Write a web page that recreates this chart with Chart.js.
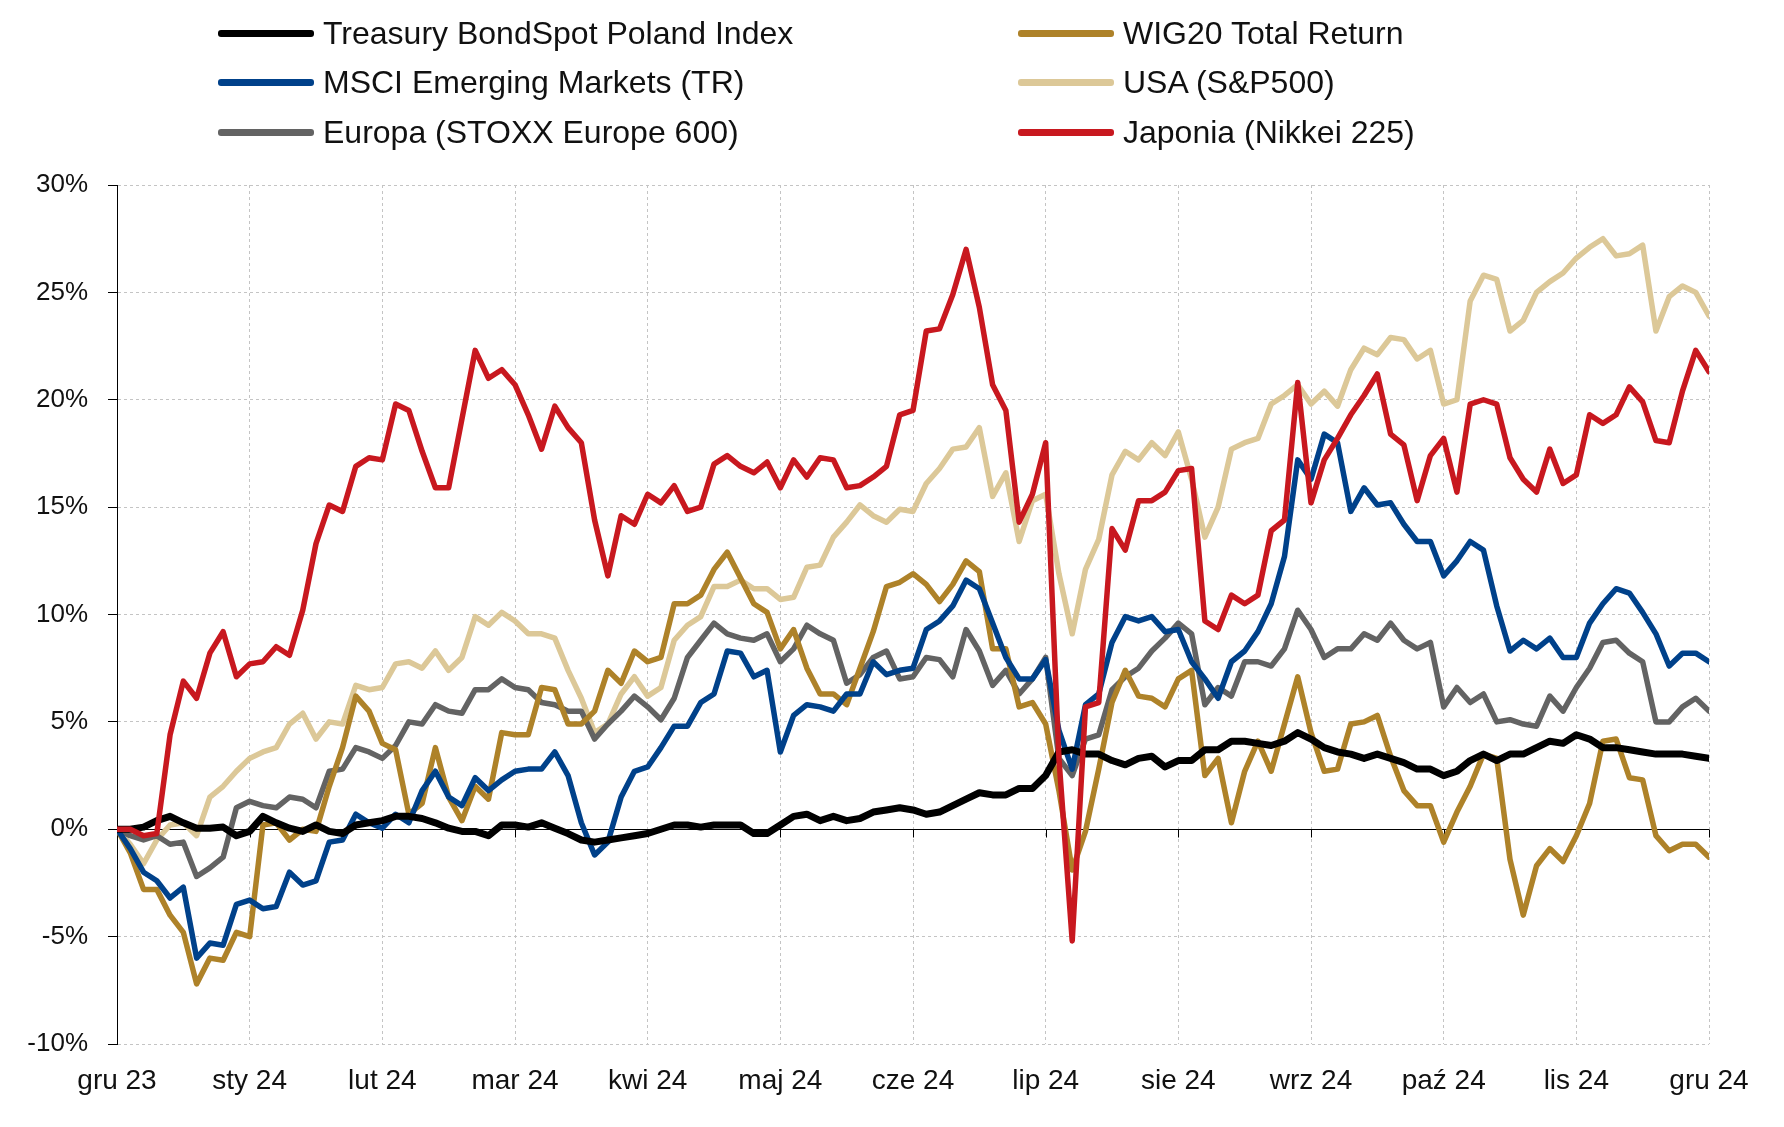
<!DOCTYPE html>
<html>
<head>
<meta charset="utf-8">
<script src="https://cdn.jsdelivr.net/npm/chart.js@4.4.1/dist/chart.umd.min.js"></script>
<style>
  body { margin: 0; background: #fff; }
  #wrap { position: relative; width: 1784px; height: 1127px; }
  #chart { position: absolute; left: 0; top: 0; }
  .legend-item { position: absolute; display: flex; align-items: center; height: 32px;
    font-family: 'Liberation Sans', Arial, sans-serif; font-size: 32px; line-height: 32px; color: #111; white-space: nowrap; }
  .legend-item span.swatch { display: inline-block; width: 96px; height: 7px; border-radius: 3px; margin-right: 9px; }
</style>
</head>
<body>
<div id="wrap">
  <canvas id="chart" width="1784" height="1127"></canvas>
  <div id="legend"></div>
</div>
<script>
// month-end labels, one per gridline
const monthLabels = ['gru 23', 'sty 24', 'lut 24', 'mar 24', 'kwi 24', 'maj 24', 'cze 24',
  'lip 24', 'sie 24', 'wrz 24', 'paź 24', 'lis 24', 'gru 24'];

// sample positions in months since start (every 0.1 month)
const steps = Array.from({ length: 121 }, (_, i) => i / 10);

// YTD returns in %
const treasury = [
  0, 0, 0.1, 0.4, 0.6, 0.3, 0.05, 0.05, 0.1, -0.3,
  -0.1, 0.6, 0.3, 0.05, -0.1, 0.2, -0.1, -0.2, 0.2, 0.3,
  0.4, 0.6, 0.6, 0.5, 0.3, 0.05, -0.1, -0.1, -0.3, 0.2,
  0.2, 0.1, 0.3, 0.05, -0.2, -0.5, -0.6, -0.5, -0.4, -0.3,
  -0.2, 0.0, 0.2, 0.2, 0.1, 0.2, 0.2, 0.2, -0.2, -0.2,
  0.2, 0.6, 0.7, 0.4, 0.6, 0.4, 0.5, 0.8, 0.9, 1.0,
  0.9, 0.7, 0.8, 1.1, 1.4, 1.7, 1.6, 1.6, 1.9, 1.9,
  2.5, 3.6, 3.7, 3.5, 3.5, 3.2, 3.0, 3.3, 3.4, 2.9,
  3.2, 3.2, 3.7, 3.7, 4.1, 4.1, 4.0, 3.9, 4.1, 4.5,
  4.2, 3.8, 3.6, 3.5, 3.3, 3.5, 3.3, 3.1, 2.8, 2.8,
  2.5, 2.7, 3.2, 3.5, 3.2, 3.5, 3.5, 3.8, 4.1, 4.0,
  4.4, 4.2, 3.8, 3.8, 3.7, 3.6, 3.5, 3.5, 3.5, 3.4, 3.3,
];
const wig20 = [
  0, -1.1, -2.8, -2.8, -4.0, -4.8, -7.2, -6.0, -6.1, -4.8,
  -5.0, 0.2, 0.3, -0.5, 0.0, -0.1, 2.0, 3.8, 6.2, 5.5,
  4.0, 3.7, 0.7, 1.2, 3.8, 1.5, 0.4, 2.0, 1.4, 4.5,
  4.4, 4.4, 6.6, 6.5, 4.9, 4.9, 5.5, 7.4, 6.8, 8.3,
  7.8, 8.0, 10.5, 10.5, 10.9, 12.1, 12.9, 11.7, 10.5, 10.1,
  8.4, 9.3, 7.5, 6.3, 6.3, 5.8, 7.5, 9.2, 11.3, 11.5,
  11.9, 11.4, 10.6, 11.4, 12.5, 12.0, 8.4, 8.4, 5.7, 5.9,
  4.9, 1.8, -1.9, -0.1, 2.8, 5.9, 7.4, 6.2, 6.1, 5.7,
  7.0, 7.4, 2.5, 3.3, 0.3, 2.7, 4.1, 2.7, 4.9, 7.1,
  4.5, 2.7, 2.8, 4.9, 5.0, 5.3, 3.4, 1.8, 1.1, 1.1,
  -0.6, 0.8, 2.0, 3.5, 3.3, -1.4, -4.0, -1.7, -0.9, -1.5,
  -0.3, 1.2, 4.1, 4.2, 2.4, 2.3, -0.3, -1.0, -0.7, -0.7, -1.3,
];
const msci = [
  0, -0.9, -2.0, -2.4, -3.2, -2.7, -6.0, -5.3, -5.4, -3.5,
  -3.3, -3.7, -3.6, -2.0, -2.6, -2.4, -0.6, -0.5, 0.7, 0.3,
  0.05, 0.7, 0.3, 1.8, 2.7, 1.5, 1.1, 2.4, 1.8, 2.3,
  2.7, 2.8, 2.8, 3.6, 2.5, 0.3, -1.2, -0.6, 1.5, 2.7,
  2.9, 3.8, 4.8, 4.8, 5.9, 6.3, 8.3, 8.2, 7.1, 7.4,
  3.6, 5.3, 5.8, 5.7, 5.5, 6.3, 6.3, 7.8, 7.2, 7.4,
  7.5, 9.3, 9.7, 10.4, 11.6, 11.2, 9.6, 8.0, 7.0, 7.0,
  7.9, 4.6, 2.8, 5.8, 6.3, 8.7, 9.9, 9.7, 9.9, 9.2,
  9.3, 7.8, 7.0, 6.1, 7.8, 8.3, 9.2, 10.5, 12.7, 17.2,
  16.3, 18.4, 18.0, 14.8, 15.9, 15.1, 15.2, 14.2, 13.4, 13.4,
  11.8, 12.5, 13.4, 13.0, 10.4, 8.3, 8.8, 8.4, 8.9, 8.0,
  8.0, 9.6, 10.5, 11.2, 11.0, 10.1, 9.1, 7.6, 8.2, 8.2, 7.8,
];
const usa = [
  0, -0.7, -1.6, -0.5, 0.2, 0.3, -0.3, 1.5, 2.0, 2.7,
  3.3, 3.6, 3.8, 4.9, 5.4, 4.2, 5.0, 4.9, 6.7, 6.5,
  6.6, 7.7, 7.8, 7.5, 8.3, 7.4, 8.0, 9.9, 9.5, 10.1,
  9.7, 9.1, 9.1, 8.9, 7.4, 6.1, 4.5, 4.9, 6.3, 7.1,
  6.2, 6.6, 8.8, 9.5, 9.9, 11.3, 11.3, 11.6, 11.2, 11.2,
  10.7, 10.8, 12.2, 12.3, 13.6, 14.3, 15.1, 14.6, 14.3, 14.9,
  14.8, 16.1, 16.8, 17.7, 17.8, 18.7, 15.5, 16.6, 13.4, 15.3,
  15.6, 11.9, 9.1, 12.1, 13.5, 16.5, 17.6, 17.2, 18.0, 17.4,
  18.5, 16.3, 13.6, 15.0, 17.7, 18.0, 18.2, 19.8, 20.2, 20.7,
  19.8, 20.4, 19.7, 21.4, 22.4, 22.1, 22.9, 22.8, 21.9, 22.3,
  19.8, 20.0, 24.6, 25.8, 25.6, 23.2, 23.7, 25.0, 25.5, 25.9,
  26.6, 27.1, 27.5, 26.7, 26.8, 27.2, 23.2, 24.8, 25.3, 25.0, 23.9,
];
const europe = [
  0, -0.3, -0.5, -0.3, -0.7, -0.6, -2.2, -1.8, -1.3, 1.0,
  1.3, 1.1, 1.0, 1.5, 1.4, 1.0, 2.7, 2.8, 3.8, 3.6,
  3.3, 3.9, 5.0, 4.9, 5.8, 5.5, 5.4, 6.5, 6.5, 7.0,
  6.6, 6.5, 5.9, 5.8, 5.5, 5.5, 4.2, 4.9, 5.5, 6.2,
  5.7, 5.1, 6.1, 8.0, 8.8, 9.6, 9.1, 8.9, 8.8, 9.1,
  7.8, 8.4, 9.5, 9.1, 8.8, 6.8, 7.2, 8.0, 8.3, 7.0,
  7.1, 8.0, 7.9, 7.1, 9.3, 8.3, 6.7, 7.4, 6.3, 7.0,
  8.0, 3.3, 2.5, 4.2, 4.4, 6.5, 7.1, 7.5, 8.3, 8.9,
  9.6, 9.1, 5.8, 6.6, 6.2, 7.8, 7.8, 7.6, 8.4, 10.2,
  9.3, 8.0, 8.4, 8.4, 9.1, 8.8, 9.6, 8.8, 8.4, 8.7,
  5.7, 6.6, 5.9, 6.3, 5.0, 5.1, 4.9, 4.8, 6.2, 5.5,
  6.6, 7.5, 8.7, 8.8, 8.2, 7.8, 5.0, 5.0, 5.7, 6.1, 5.5,
];
const japan = [
  0, 0, -0.3, -0.2, 4.4, 6.9, 6.1, 8.2, 9.2, 7.1,
  7.7, 7.8, 8.5, 8.1, 10.2, 13.3, 15.1, 14.8, 16.9, 17.3,
  17.2, 19.8, 19.5, 17.6, 15.9, 15.9, 19.1, 22.3, 21.0, 21.4,
  20.7, 19.3, 17.7, 19.7, 18.7, 18.0, 14.4, 11.8, 14.6, 14.2,
  15.6, 15.2, 16.0, 14.8, 15.0, 17.0, 17.4, 16.9, 16.6, 17.1,
  15.9, 17.2, 16.4, 17.3, 17.2, 15.9, 16.0, 16.4, 16.9, 19.3,
  19.5, 23.2, 23.3, 24.9, 27.0, 24.3, 20.7, 19.5, 14.3, 15.6,
  18.0, 3.3, -5.2, 5.7, 5.9, 14.0, 13.0, 15.3, 15.3, 15.7,
  16.7, 16.8, 9.7, 9.3, 10.9, 10.5, 10.9, 13.9, 14.4, 20.8,
  15.2, 17.2, 18.2, 19.3, 20.2, 21.2, 18.4, 17.9, 15.3, 17.4,
  18.2, 15.7, 19.8, 20.0, 19.8, 17.3, 16.3, 15.7, 17.7, 16.1,
  16.5, 19.3, 18.9, 19.3, 20.6, 19.9, 18.1, 18.0, 20.4, 22.3, 21.3,
];

const toPoints = (arr) => arr.map((v, i) => ({ x: steps[i], y: v }));

function series(label, values, color, width, order) {
  return {
    label: label,
    data: toPoints(values),
    borderColor: color,
    backgroundColor: color,
    borderWidth: width,
    pointRadius: 0,
    tension: 0,
    borderJoinStyle: 'round',
    borderCapStyle: 'round',
    order: order,
  };
}

const datasets = [
  series('Treasury BondSpot Poland Index', treasury, '#000000', 7, 1),
  series('WIG20 Total Return', wig20, '#ae8229', 5.5, 3),
  series('MSCI Emerging Markets (TR)', msci, '#00418a', 5.5, 2),
  series('USA (S&P500)', usa, '#dcc898', 5.5, 5),
  series('Europa (STOXX Europe 600)', europe, '#636363', 5.5, 4),
  series('Japonia (Nikkei 225)', japan, '#c8181f', 5.5, 0),
];

// solid zero line with small ticks under each month gridline
const zeroLine = {
  id: 'zeroLine',
  beforeDatasetsDraw(chart) {
    const { ctx, chartArea, scales: { x, y } } = chart;
    const y0 = Math.round(y.getPixelForValue(0)) + 0.5;
    ctx.save();
    ctx.strokeStyle = '#000';
    ctx.lineWidth = 1;
    ctx.beginPath();
    ctx.moveTo(chartArea.left, y0);
    ctx.lineTo(chartArea.right, y0);
    x.ticks.forEach((t) => {
      const px = Math.round(x.getPixelForValue(t.value)) + 0.5;
      ctx.moveTo(px, y0);
      ctx.lineTo(px, y0 + 8);
    });
    ctx.stroke();
    ctx.restore();
  },
};

const tickFont = { family: "'Liberation Sans', Arial, sans-serif" };

const config = {
  type: 'line',
  data: { datasets: datasets },
  options: {
    responsive: false,
    animation: false,
    devicePixelRatio: 1,
    events: [],
    layout: { padding: { left: 0, right: 75, top: 185, bottom: 0 } },
    plugins: { legend: { display: false }, tooltip: { enabled: false } },
    scales: {
      x: {
        type: 'linear',
        min: 0,
        max: 12,
        afterFit: (scale) => { scale.height = 83; },
        afterBuildTicks: (scale) => {
          scale.ticks = monthLabels.map((_, i) => ({ value: i }));
        },
        ticks: {
          autoSkip: false,
          maxRotation: 0,
          padding: 20,
          color: '#111',
          font: { ...tickFont, size: 28 },
          callback: (v) => monthLabels[v],
        },
        grid: { color: '#c4c4c4', lineWidth: 1, drawTicks: false },
        border: { display: false, dash: [3, 3] },
      },
      y: {
        min: -10,
        max: 30,
        afterFit: (scale) => { scale.width = 117; },
        ticks: {
          stepSize: 5,
          padding: 20,
          color: '#111',
          font: { ...tickFont, size: 26 },
          callback: (v) => v + '%',
        },
        grid: {
          color: (c) => (c.tick && c.tick.value === 0 ? 'rgba(0,0,0,0)' : '#c4c4c4'),
          tickColor: '#000',
          tickLength: 9,
          lineWidth: 1,
        },
        border: { display: true, color: '#000', width: 1, dash: [3, 3] },
      },
    },
  },
  plugins: [zeroLine],
};

const myChart = new Chart(document.getElementById('chart'), config);

// legend: two columns, three rows, built from the datasets
const legendSlots = [
  { left: 218, top: 17 }, { left: 1018, top: 17 },
  { left: 218, top: 66 }, { left: 1018, top: 66 },
  { left: 218, top: 116 }, { left: 1018, top: 116 },
];
const legendBox = document.getElementById('legend');
myChart.data.datasets.forEach((ds, i) => {
  const slot = legendSlots[i];
  const item = document.createElement('div');
  item.className = 'legend-item';
  item.style.left = slot.left + 'px';
  item.style.top = slot.top + 'px';
  item.innerHTML = '<span class="swatch" style="background:' + ds.borderColor + '"></span>' + ds.label;
  legendBox.appendChild(item);
});
</script>
</body>
</html>
